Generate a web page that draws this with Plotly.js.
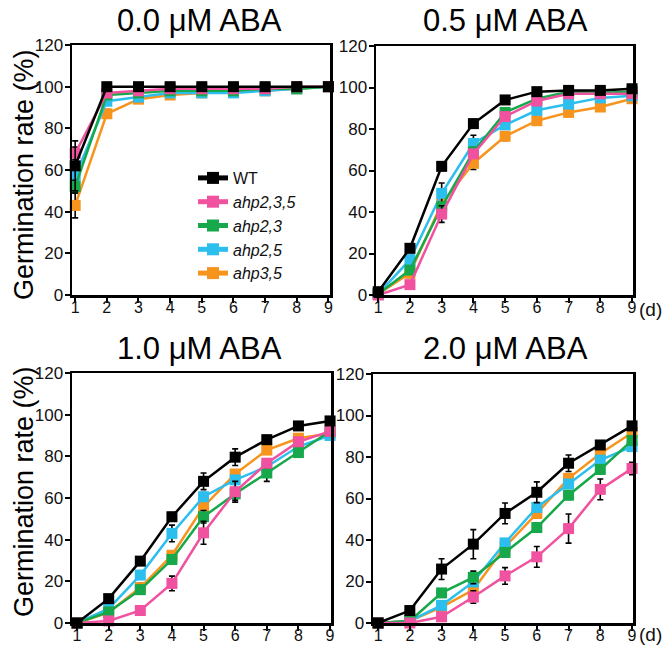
<!DOCTYPE html>
<html><head><meta charset="utf-8">
<script src="https://cdn.plot.ly/plotly-3.0.1.min.js"></script>
<style>html,body{margin:0;padding:0;background:#fff}</style>
</head><body><div id="chart" style="width:668px;height:646px"></div>
<script>
const days = [1,2,3,4,5,6,7,8,9];
const seriesNames = ["WT","ahp2,3,5","ahp2,3","ahp2,5","ahp3,5"];
const panelTitles = ["0.0 \u03bcM ABA","0.5 \u03bcM ABA","1.0 \u03bcM ABA","2.0 \u03bcM ABA"];

// 0.0 uM ABA
const aba00_WT    = [62,100,100,100,100,100,100,100,100];
const aba00_a235  = [68,97,98,99,99,99,99,100,100];
const aba00_a23   = [52,96,97,98,98,98,99,99,100];
const aba00_a25   = [57,93,95,97,97,97,98,99,100];
const aba00_a35   = [43,87,94,96,97,98,98,99,100];
const aba00_WT_err   = [12,0,0,0,0,0,0,0,0];
const aba00_a235_err = [3,1,1,0,0,0,0,0,0];
const aba00_a23_err  = [3,1,1,0,0,0,0,0,0];
const aba00_a25_err  = [4,1,1,0,0,0,0,0,0];
const aba00_a35_err  = [6,2,1,1,0,0,0,0,0];

// 0.5 uM ABA
const aba05_WT    = [1.6,22.5,62,82.6,94,98,98.6,98.6,99.4];
const aba05_a235  = [0,5,39,68,86,93.5,97,97,97];
const aba05_a23   = [0.5,12,42.5,69,88,94.6,98,97.5,98];
const aba05_a25   = [0.5,17,49,73,82,89,92,95,96];
const aba05_a35   = [0.5,10.5,44,63.5,76.5,84,88,90.6,94.6];
const aba05_WT_err   = [1,2,2,2,1,1,1,1,1];
const aba05_a235_err = [0,1,4,2,2,1,1,1,1];
const aba05_a23_err  = [0,2,2,2,2,1,1,1,1];
const aba05_a25_err  = [0,2,5,4,2,1,1,1,1];
const aba05_a35_err  = [0,2,2,3,2,2,2,2,1];

// 1.0 uM ABA
const aba10_WT    = [0,11.7,29.7,51,68,79.6,88,94.6,97];
const aba10_a235  = [0,1,6,19,43.3,63,76.7,87,92];
const aba10_a23   = [0,5.3,16,30.5,51,62,72,81.8,92];
const aba10_a25   = [0,6.9,23,43,60.6,68.7,75,84.7,90];
const aba10_a35   = [0,5,17,32.5,55.8,71.5,83,88.7,91];
const aba10_WT_err   = [0,1,2,2,4,4,2,1,1];
const aba10_a235_err = [0,1,1,3.5,5.5,5,2,1,1];
const aba10_a23_err  = [0,1,2,2,3,3,4,2,1];
const aba10_a25_err  = [0,1,2,4,2,2,2,1,1];
const aba10_a35_err  = [0,1,2,2,2,2,2,1,1];

// 2.0 uM ABA
const aba20_WT    = [0,6,26,38,52.8,63,77,85.8,95];
const aba20_a235  = [0,0,3,12.5,22.7,31.9,45.5,64.4,74.5];
const aba20_a23   = [0,1,14.5,22,34,46,61.6,74,88];
const aba20_a25   = [0,1,8.5,19.8,38.6,55.7,67,78.5,85];
const aba20_a35   = [0,1,7.7,16,36.7,52.8,69.7,81.7,91.7];
const aba20_WT_err   = [0,1,5,7,5,5,4,2,2];
const aba20_a235_err = [0,0,1,3,4,5,7,5,3];
const aba20_a23_err  = [0,0,2,3,2,2,2,2,2];
const aba20_a25_err  = [0,0,2,2,2,2,2,2,2];
const aba20_a35_err  = [0,0,2,2,2,2,2,2,2];

const colors = {"WT":"#000000","ahp2,3,5":"#f0529f","ahp2,3":"#17a84b","ahp2,5":"#2cbfee","ahp3,5":"#f7941d"};

const panels = [
  {vals:[aba00_WT,aba00_a235,aba00_a23,aba00_a25,aba00_a35], errs:[aba00_WT_err,aba00_a235_err,aba00_a23_err,aba00_a25_err,aba00_a35_err]},
  {vals:[aba05_WT,aba05_a235,aba05_a23,aba05_a25,aba05_a35], errs:[aba05_WT_err,aba05_a235_err,aba05_a23_err,aba05_a25_err,aba05_a35_err]},
  {vals:[aba10_WT,aba10_a235,aba10_a23,aba10_a25,aba10_a35], errs:[aba10_WT_err,aba10_a235_err,aba10_a23_err,aba10_a25_err,aba10_a35_err]},
  {vals:[aba20_WT,aba20_a235,aba20_a23,aba20_a25,aba20_a35], errs:[aba20_WT_err,aba20_a235_err,aba20_a23_err,aba20_a25_err,aba20_a35_err]}
];

const W = 668, H = 646;
const geom = [
  {l:72, r:330, t:45, b:295, xr:[0.9,9.05]},
  {l:376, r:633, t:46, b:295, xr:[0.93,9.03]},
  {l:72, r:331, t:373, b:623, xr:[0.84,9.03]},
  {l:373, r:633, t:374, b:623, xr:[0.84,9.03]}
];

const traces = [];
const drawOrder = [4,3,2,1,0];
panels.forEach((p, pi) => {
  const ax = pi === 0 ? "" : String(pi+1);
  drawOrder.forEach(si => {
    const name = seriesNames[si];
    traces.push({
      type:"scatter", mode:"lines+markers",
      x: days, y: p.vals[si],
      xaxis:"x"+ax, yaxis:"y"+ax,
      name: si === 0 ? name : "<i>"+name+"</i>",
      showlegend: pi === 0,
      line:{color:colors[name], width:2.5},
      marker:{symbol:"square", size:11, color:colors[name]},
      error_y:{type:"data", array:p.errs[si], visible:true, color:"#000", thickness:1.6, width:3},
      cliponaxis:false
    });
  });
});

const layout = {
  width:W, height:H,
  margin:{l:0,r:0,t:0,b:0},
  paper_bgcolor:"#fff", plot_bgcolor:"#fff",
  font:{family:"Arial, Liberation Sans, sans-serif", color:"#111"},
  showlegend:true,
  legend:{x:193/W, y:1-161/H, xanchor:"left", yanchor:"top", traceorder:"reversed",
          font:{size:16, color:"#111"}, bgcolor:"rgba(0,0,0,0)", itemsizing:"constant"},
  annotations:[]
};

geom.forEach((g, i) => {
  const ax = i === 0 ? "" : String(i+1);
  layout["xaxis"+ax] = {
    domain:[g.l/W, g.r/W], range:g.xr, anchor:"y"+ax,
    tickvals:days, ticktext:days.map(String),
    showline:true, linewidth:2.5, linecolor:"#000", mirror:true,
    ticks:"outside", ticklen:5, tickwidth:2, tickcolor:"#000",
    ticklabelstandoff:-9,
    showgrid:false, zeroline:false, tickfont:{size:16, color:"#111"}
  };
  layout["yaxis"+ax] = {
    domain:[1-g.b/H, 1-g.t/H], range:[0,120], anchor:"x"+ax,
    tickvals:[0,20,40,60,80,100,120],
    showline:true, linewidth:2.5, linecolor:"#000", mirror:true,
    ticks:"outside", ticklen:5, tickwidth:2, tickcolor:"#000",
    ticklabelstandoff:-2,
    showgrid:false, zeroline:false, tickfont:{size:17, color:"#111"}
  };
});

const titlePos = [[199,20],[505,20],[200,348],[505,348]];
panelTitles.forEach((t,i) => {
  layout.annotations.push({text:t, xref:"paper", yref:"paper", x:titlePos[i][0]/W, y:1-titlePos[i][1]/H,
    xanchor:"center", yanchor:"middle", showarrow:false, font:{size:31, color:"#000"}});
});
[[24,175],[24,492]].forEach(p => {
  layout.annotations.push({text:"Germination rate (%)", xref:"paper", yref:"paper", x:p[0]/W, y:1-p[1]/H,
    xanchor:"center", yanchor:"middle", textangle:-90, showarrow:false, font:{size:27, color:"#000"}});
});
[[650,309],[650,634]].forEach(p => {
  layout.annotations.push({text:"(d)", xref:"paper", yref:"paper", x:p[0]/W, y:1-p[1]/H,
    xanchor:"center", yanchor:"middle", showarrow:false, font:{size:19, color:"#111"}});
});

Plotly.newPlot("chart", traces, layout, {displayModeBar:false, staticPlot:true});
</script></body></html>
